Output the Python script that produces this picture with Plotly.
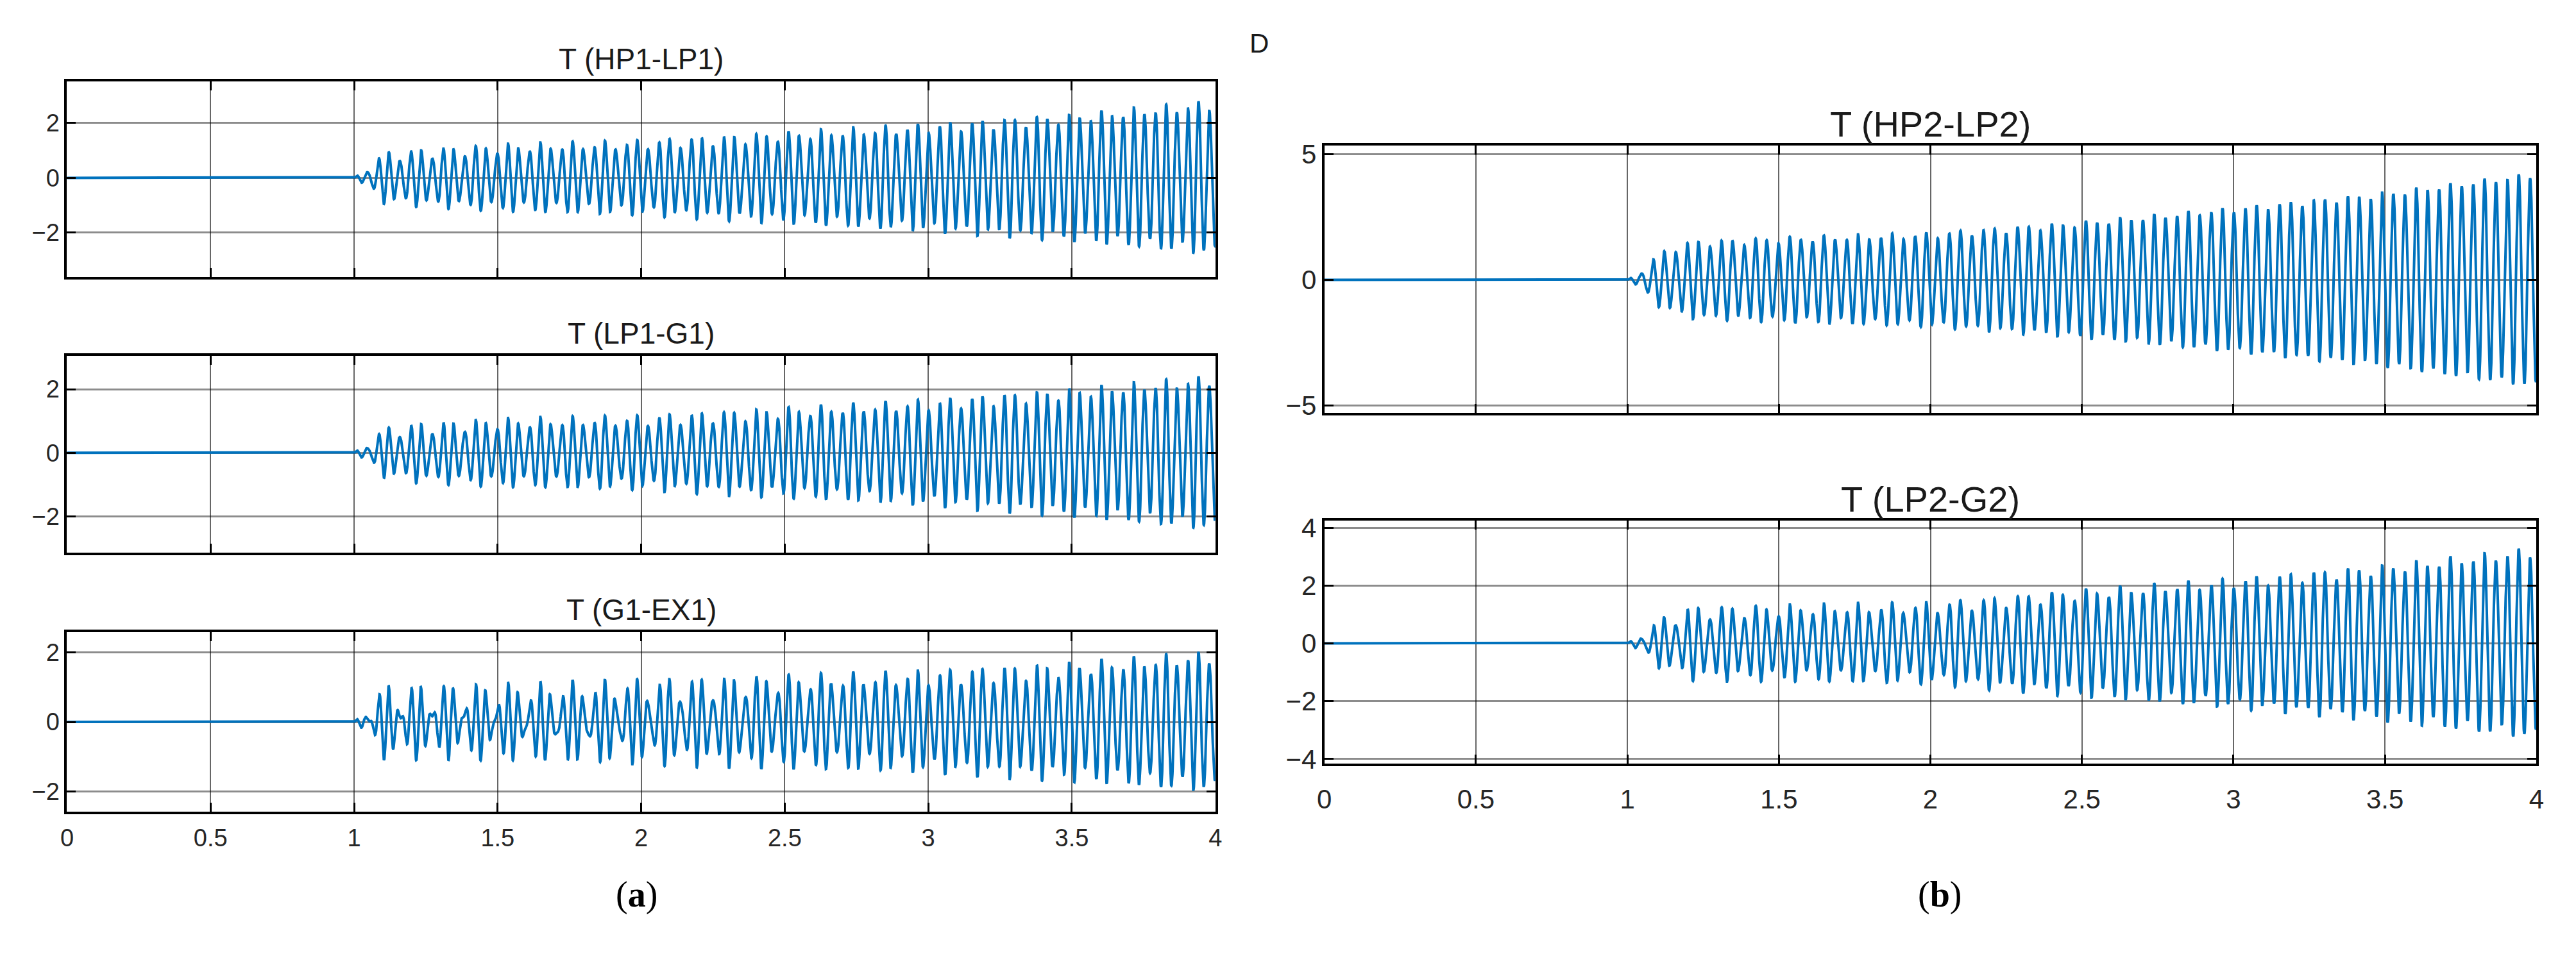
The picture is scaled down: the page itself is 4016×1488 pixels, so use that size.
import numpy as np
import plotly.graph_objects as go

# envelope readings (time in s, torque in p.u.)
t_env = [1.0, 1.04, 1.1, 1.2, 1.5, 2.0, 2.5, 3.0, 3.5, 4.0]
f_main = 26.6     # Hz, counted peaks between the 0.5 s grid lines
f_second = 35.8   # Hz, from the beat spacing

titles = ["T (HP1-LP1)", "T (LP1-G1)", "T (G1-EX1)", "T (HP2-LP2)", "T (LP2-G2)"]

# main mode amplitude / second mode amplitude for every shaft section
hp1_a1 = [0, 0.25, 0.75, 0.85, 1.05, 1.2, 1.5, 1.8, 2.15, 2.65]
hp1_a2 = [0, 0.1, 0.2, 0.2, 0.2, 0.2, 0.2, 0.2, 0.2, 0.2]
lp1_a1 = [0, 0.2, 0.6, 0.75, 0.9, 1.0, 1.25, 1.5, 1.85, 2.27]
lp1_a2 = [0, 0.1, 0.2, 0.2, 0.2, 0.2, 0.2, 0.2, 0.2, 0.18]
g1_a1 = [0, 0.2, 0.6, 0.62, 0.68, 0.86, 1.08, 1.25, 1.5, 1.85]
g1_a2 = [0, 0.15, 0.5, 0.48, 0.45, 0.4, 0.3, 0.25, 0.25, 0.2]
hp2_a1 = [0, 0.25, 0.95, 1.42, 1.58, 1.76, 2.22, 2.78, 3.38, 4.18]
hp2_a2 = [0, 0.08, 0.12, 0.13, 0.14, 0.14, 0.13, 0.12, 0.12, 0.12]
lp2_a1 = [0, 0.22, 0.6, 1.05, 1.12, 1.22, 1.68, 2.08, 2.55, 3.15]
lp2_a2 = [0, 0.1, 0.25, 0.25, 0.23, 0.23, 0.22, 0.2, 0.2, 0.2]

y_ranges = [[-3.61, 3.52], [-3.14, 3.04], [-2.58, 2.58], [-5.28, 5.35], [-4.15, 4.24]]
y_ticks = [[-2, 0, 2], [-2, 0, 2], [-2, 0, 2], [-5, 0, 5], [-4, -2, 0, 2, 4]]
x_ticks = [0, 0.5, 1, 1.5, 2, 2.5, 3, 3.5, 4]
x_labels = ["0", "0.5", "1", "1.5", "2", "2.5", "3", "3.5", "4"]

W, H = 4016, 1488
# pixel boxes of the five axes: left, right, top, bottom
boxes = [
    (85, 1886, 109, 420),
    (85, 1886, 546, 859),
    (85, 1886, 985, 1271),
    (2057, 3958, 211, 636),
    (2057, 3958, 808, 1194),
]

t = np.linspace(0, 4, 8001)


def torque(a1, a2):
    tau = np.clip(t - 1.0, 0, None)
    e1 = np.interp(t, t_env, a1, left=0)
    e2 = np.interp(t, t_env, a2, left=0)
    return e1 * np.sin(2 * np.pi * f_main * tau) + e2 * np.sin(2 * np.pi * f_second * tau)


signals = [
    torque(hp1_a1, hp1_a2),
    torque(lp1_a1, lp1_a2),
    torque(g1_a1, g1_a2),
    torque(hp2_a1, hp2_a2),
    torque(lp2_a1, lp2_a2),
]

fig = go.Figure()
sans = "Liberation Sans Narrow, Liberation Sans, Arial"
layout = dict(width=W, height=H, margin=dict(l=0, r=0, t=0, b=0),
              paper_bgcolor="white", plot_bgcolor="white", showlegend=False)
annotations = []

for i, (sig, box) in enumerate(zip(signals, boxes)):
    n = "" if i == 0 else str(i + 1)
    fig.add_trace(go.Scatter(x=t, y=sig, mode="lines", xaxis="x" + n, yaxis="y" + n,
                             line=dict(color="#0072BD", width=4)))
    l, r, top, bot = box
    left_panel = i < 3
    tick_font = dict(family=sans, size=38 if left_panel else 42, color="#262626")
    layout["xaxis" + n] = dict(
        domain=[l / W, r / W], anchor="y" + n, range=[0, 4],
        tickvals=x_ticks, ticktext=x_labels, showticklabels=i in (2, 4),
        ticks="inside", ticklen=14, tickwidth=3, tickcolor="black",
        ticklabelstandoff=4 if left_panel else 16,
        showgrid=True, gridcolor="rgba(0,0,0,0.6)", gridwidth=1.5,
        showline=True, linecolor="black", linewidth=4, mirror="allticks",
        zeroline=False, tickfont=tick_font)
    layout["yaxis" + n] = dict(
        domain=[1 - bot / H, 1 - top / H], anchor="x" + n, range=y_ranges[i],
        tickvals=y_ticks[i], ticks="inside", ticklen=14, tickwidth=3, tickcolor="black",
        showgrid=True, gridcolor="rgba(0,0,0,0.45)", gridwidth=2.5,
        showline=True, linecolor="black", linewidth=4, mirror="allticks",
        zeroline=False, tickfont=tick_font)
    annotations.append(dict(
        text=titles[i], x=(l + r) / 2 / W,
        y=1 - (top - (36 if left_panel else 34)) / H, xref="paper", yref="paper",
        xanchor="center", yanchor="middle", showarrow=False,
        font=dict(family=sans, size=46 if left_panel else 56, color="#1a1a1a")))

label_font = dict(family="Liberation Serif, DejaVu Serif", size=56, color="black")
annotations.append(dict(text="(<b>a</b>)", x=978 / W, y=1 - 1403 / H, xref="paper", yref="paper",
                        xanchor="center", yanchor="middle", showarrow=False, font=label_font))
annotations.append(dict(text="(<b>b</b>)", x=3022 / W, y=1 - 1403 / H, xref="paper", yref="paper",
                        xanchor="center", yanchor="middle", showarrow=False, font=label_font))
annotations.append(dict(text="D", x=1938 / W, y=1 - 48 / H, xref="paper", yref="paper",
                        xanchor="left", yanchor="middle", showarrow=False,
                        font=dict(family="Liberation Sans", size=42, color="#1a1a1a")))
layout["annotations"] = annotations

fig.update_layout(**layout)
fig.write_html("out.html")
